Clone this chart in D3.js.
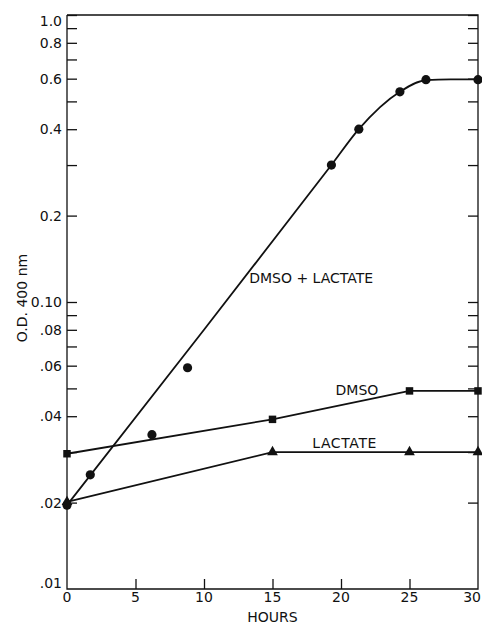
<!DOCTYPE html>
<html>
<head>
<meta charset="utf-8">
<script src="https://cdn.jsdelivr.net/npm/d3@7"></script>
<style>
  body { margin: 0; background: #fff; }
  text { font-family: "DejaVu Sans", sans-serif; fill: #111; }
</style>
</head>
<body>
<div id="my_dataviz"></div>
<script>
// data
const circleHours = [0, 1.7, 6.2, 8.8, 19.3, 21.3, 24.3, 26.2, 30];
const circleOD = [0.0196, 0.025, 0.0345, 0.059, 0.30, 0.40, 0.54, 0.595, 0.595];
// hand-drawn fit through the DMSO + LACTATE points
const fitHours = [0, 10, 19.3, 21.3, 24.3, 26.2, 28, 30];
const fitOD = [0.0196, 0.08, 0.30, 0.40, 0.54, 0.593, 0.597, 0.597];

const dmsoHours = [0, 15, 25, 30];
const dmsoOD = [0.0296, 0.039, 0.049, 0.049];

const lactateHours = [0, 15, 25, 30];
const lactateOD = [0.0201, 0.030, 0.030, 0.030];

const xTicks = [0, 5, 10, 15, 20, 25, 30];
const yTicks = [0.02, 0.03, 0.04, 0.05, 0.06, 0.07, 0.08, 0.09, 0.1,
                0.2, 0.3, 0.4, 0.5, 0.6, 0.7, 0.8, 0.9, 1.0];
const yLabels = [
  [1.0, "1.0"], [0.8, "0.8"], [0.6, "0.6"], [0.4, "0.4"], [0.2, "0.2"],
  [0.1, "0.10"], [0.08, ".08"], [0.06, ".06"], [0.04, ".04"], [0.02, ".02"], [0.01, ".01"]
];

// Set margins
const margin = { top: 15, right: 4, bottom: 34, left: 67 };
const width = 482 - margin.left - margin.right;
const height = 623 - margin.top - margin.bottom;

var svg = d3.select("#my_dataviz")
  .append("svg")
    .attr("width", 482)
    .attr("height", 623)
  .append("g")
    .attr("transform", "translate(" + margin.left + "," + margin.top + ")");

var x = d3.scaleLinear().domain([0, 30]).range([0, width]);
var y = d3.scaleLog().domain([0.01, 1]).range([height, 0]);

// frame lines
svg.append("path")
  .attr("d", "M0,0V" + height + "H" + width + "V0H0")
  .attr("fill", "none")
  .attr("stroke", "#111")
  .attr("stroke-width", 1.3);

// left and right ticks, pointing inward
svg.append("g")
  .call(d3.axisRight(y).tickValues(yTicks).tickSize(10).tickFormat(""))
  .call(g => g.select(".domain").remove())
  .selectAll("line").attr("stroke", "#111").attr("stroke-width", 1.3);
svg.append("g")
  .attr("transform", "translate(" + width + ",0)")
  .call(d3.axisLeft(y).tickValues(yTicks).tickSize(10).tickFormat(""))
  .call(g => g.select(".domain").remove())
  .selectAll("line").attr("stroke", "#111").attr("stroke-width", 1.3);

// y labels
svg.append("g")
  .selectAll("text")
  .data(yLabels)
  .enter().append("text")
    .attr("x", -5)
    .attr("y", d => y(d[0]))
    .attr("dy", d => d[0] === 1 ? "0.75em" : d[0] === 0.01 ? "-0.05em" : "0.35em")
    .attr("text-anchor", "end")
    .style("font-size", "14px")
    .text(d => d[1]);

// bottom ticks
var xAxis = svg.append("g")
  .attr("transform", "translate(0," + height + ")")
  .call(d3.axisTop(x).tickValues(xTicks.slice(1, -1)).tickSize(10).tickFormat(""));
xAxis.select(".domain").remove();
xAxis.selectAll("line").attr("stroke", "#111").attr("stroke-width", 1.3);

svg.append("g")
  .selectAll("text")
  .data(xTicks)
  .enter().append("text")
    .attr("x", d => d === 30 ? x(d) + 3 : x(d))
    .attr("y", height + 13)
    .attr("text-anchor", d => d === 30 ? "end" : "middle")
    .style("font-size", "14px")
    .text(d => d);

svg.append("text")
  .attr("x", x(15))
  .attr("y", height + 32.5)
  .attr("text-anchor", "middle")
  .style("font-size", "14px")
  .text("HOURS");

svg.append("text")
  .attr("transform", "translate(" + (22 - margin.left) + "," + (298 - margin.top) + ") rotate(-90)")
  .attr("text-anchor", "middle")
  .attr("dy", "0.35em")
  .style("font-size", "14px")
  .text("O.D. 400 nm");

// lines
function pts(hs, vs) { return hs.map((h, i) => [h, vs[i]]); }
var line = d3.line().x(d => x(d[0])).y(d => y(d[1]));

svg.append("path")
  .datum(pts(fitHours, fitOD))
  .attr("fill", "none").attr("stroke", "#111").attr("stroke-width", 1.8)
  .attr("d", line.curve(d3.curveMonotoneX));
svg.append("path")
  .datum(pts(dmsoHours, dmsoOD))
  .attr("fill", "none").attr("stroke", "#111").attr("stroke-width", 1.8)
  .attr("d", line.curve(d3.curveLinear));
svg.append("path")
  .datum(pts(lactateHours, lactateOD))
  .attr("fill", "none").attr("stroke", "#111").attr("stroke-width", 1.8)
  .attr("d", line.curve(d3.curveLinear));

// markers
svg.append("g").selectAll("circle")
  .data(pts(circleHours, circleOD))
  .enter().append("circle")
    .attr("cx", d => x(d[0]))
    .attr("cy", d => y(d[1]))
    .attr("r", 4.6)
    .attr("fill", "#111");

svg.append("g").selectAll("path")
  .data(pts(dmsoHours, dmsoOD))
  .enter().append("path")
    .attr("transform", d => "translate(" + x(d[0]) + "," + y(d[1]) + ")")
    .attr("d", d3.symbol(d3.symbolSquare, 56))
    .attr("fill", "#111");

svg.append("g").selectAll("path")
  .data(pts(lactateHours, lactateOD))
  .enter().append("path")
    .attr("transform", d => "translate(" + x(d[0]) + "," + y(d[1]) + ")")
    .attr("d", d3.symbol(d3.symbolTriangle, 50))
    .attr("fill", "#111");

// series labels
svg.append("text")
  .attr("x", x(13.3)).attr("y", y(0.121)).attr("dy", "0.35em")
  .style("font-size", "14px")
  .text("DMSO + LACTATE");
svg.append("text")
  .attr("x", x(19.6)).attr("y", y(0.0495)).attr("dy", "0.35em")
  .style("font-size", "14px")
  .text("DMSO");
svg.append("text")
  .attr("x", x(17.9)).attr("y", y(0.0323)).attr("dy", "0.35em")
  .style("font-size", "14px").style("letter-spacing", "0.6px")
  .text("LACTATE");
</script>
</body>
</html>
